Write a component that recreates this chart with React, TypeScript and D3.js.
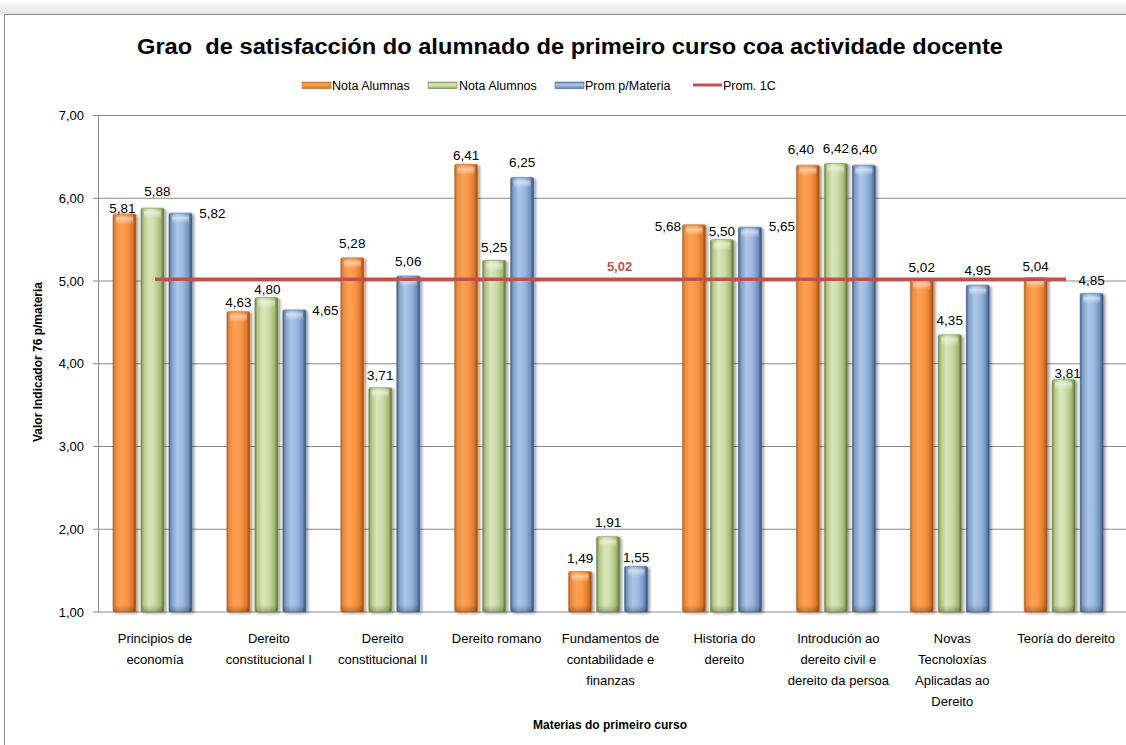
import React from 'react';
import * as d3 from 'd3';

// ---------- data ----------
const categories: string[][] = [
  ['Principios de', 'economía'],
  ['Dereito', 'constitucional I'],
  ['Dereito', 'constitucional II'],
  ['Dereito romano'],
  ['Fundamentos de', 'contabilidade e', 'finanzas'],
  ['Historia do', 'dereito'],
  ['Introdución ao', 'dereito civil e', 'dereito da persoa'],
  ['Novas', 'Tecnoloxías', 'Aplicadas ao', 'Dereito'],
  ['Teoría do dereito'],
];
const seriesNames = ['Nota Alumnas', 'Nota Alumnos', 'Prom p/Materia'];
const notaAlumnas = [5.81, 4.63, 5.28, 6.41, 1.49, 5.68, 6.4, 5.02, 5.04];
const notaAlumnos = [5.88, 4.8, 3.71, 5.25, 1.91, 5.5, 6.42, 4.35, 3.81];
const promMateria = [5.82, 4.65, 5.06, 6.25, 1.55, 5.65, 6.4, 4.95, 4.85];
const promedio1C = 5.02;
const lineName = 'Prom. 1C';
const yTicks = [1, 2, 3, 4, 5, 6, 7];
const title = 'Grao  de satisfacción do alumnado de primeiro curso coa actividade docente';
const yTitle = 'Valor Indicador 76 p/materia';
const xTitle = 'Materias do primeiro curso';

// label nudges (dx, dy) reproducing Excel's data label placement
const labelNudges: [number, number][][] = [
  [[-2, 7], [0, 3], [0, -2], [0, 3], [0, -1], [-26, 14], [-7, -3], [0, 0], [0, 1]],
  [[5, -4], [1, 4], [0, 0], [0, -1], [0, -2], [0, 4], [0, -3], [0, -2], [4, 6]],
  [[32, 13], [31, 13], [0, -2], [0, -3], [0, 3], [32, 11], [0, -3], [0, -2], [0, -1]],
];

const W = 1126;
const H = 745;
const FONT = "'Liberation Sans', Arial, sans-serif";
const fmt = (v: number) => d3.format('.2f')(v).replace('.', ',');

const gradStops: Record<string, [number, string][]> = {
  orange: [[0, '#B45C16'], [0.1, '#EC8A3B'], [0.35, '#FFA052'], [0.62, '#F99646'], [0.86, '#DE772A'], [1, '#8A4710']],
  green: [[0, '#6A7C3E'], [0.1, '#AFC47F'], [0.35, '#D9E6BE'], [0.62, '#C9DBA2'], [0.86, '#A3B976'], [1, '#566A30']],
  blue: [[0, '#3B5880'], [0.1, '#7A9CC7'], [0.35, '#ABC6E7'], [0.62, '#99B8DE'], [0.86, '#6F91BE'], [1, '#304C76']],
};
const seriesKeys = ['orange', 'green', 'blue'];
const strokeCols = ['#C9732E', '#7E9350', '#4D6B92'];

export default function App() {
  const margin = { left: 98, top: 115.5, bottom: 612 };
  const x = d3
    .scaleBand<number>()
    .domain(categories.map((_, i) => i))
    .range([98, 98 + 9 * 113.9])
    .padding(0);
  const inner = d3
    .scaleBand<number>()
    .domain([0, 1, 2])
    .range([-44.5, 39.5])
    .paddingInner(0.18)
    .paddingOuter(0.09);
  const y = d3.scaleLinear().domain([1, 7]).range([margin.bottom, margin.top]);
  const series = [notaAlumnas, notaAlumnos, promMateria];
  const cx = (i: number) => (x(i) as number) + x.bandwidth() / 2;
  const bw = inner.bandwidth();

  const linePts = categories.map((_, i) => [cx(i), y(promedio1C)] as [number, number]);
  const lineGen = d3.line();

  const legendItems = [
    { key: 0, sx: 302, tx: 332 },
    { key: 1, sx: 428, tx: 459 },
    { key: 2, sx: 555, tx: 585 },
  ];

  return (
    <svg
      width={W}
      height={H}
      style={{ position: 'absolute', left: 0, top: 0, background: '#fff' }}
      fontFamily={FONT}
    >
      <defs>
        {seriesKeys.map((k) => (
          <linearGradient key={k} id={`g-${k}`} x1="0" x2="1" y1="0" y2="0">
            {gradStops[k].map(([o, c], j) => (
              <stop key={j} offset={o} stopColor={c} />
            ))}
          </linearGradient>
        ))}
        {seriesKeys.map((k) => (
          <linearGradient key={k} id={`gl-${k}`} x1="0" x2="0" y1="0" y2="1">
            {gradStops[k].map(([o, c], j) => (
              <stop key={j} offset={o} stopColor={c} />
            ))}
          </linearGradient>
        ))}
        <linearGradient id="topHi" x1="0" x2="0" y1="0" y2="1">
          <stop offset="0" stopColor="#fff" stopOpacity="0.05" />
          <stop offset="0.35" stopColor="#fff" stopOpacity="0.5" />
          <stop offset="1" stopColor="#fff" stopOpacity="0" />
        </linearGradient>
        <linearGradient id="botSh" x1="0" x2="0" y1="0" y2="1">
          <stop offset="0" stopColor="#000" stopOpacity="0" />
          <stop offset="1" stopColor="#000" stopOpacity="0.25" />
        </linearGradient>
        <linearGradient id="frameShadow" x1="0" x2="0" y1="0" y2="1">
          <stop offset="0" stopColor="#ffffff" />
          <stop offset="1" stopColor="#e2e2e2" />
        </linearGradient>
        <filter id="shadow" x="-30%" y="-5%" width="160%" height="110%">
          <feGaussianBlur in="SourceAlpha" stdDeviation="1.8" />
          <feOffset dx="1.5" dy="1" result="b" />
          <feComponentTransfer>
            <feFuncA type="linear" slope="0.4" />
          </feComponentTransfer>
          <feMerge>
            <feMergeNode />
            <feMergeNode in="SourceGraphic" />
          </feMerge>
        </filter>
      </defs>

      {/* frame */}
      <rect x={0} y={0} width={W} height={14} fill="url(#frameShadow)" />
      <rect x={4.5} y={14.5} width={W + 20} height={H + 20} fill="#fff" stroke="#8a8a8a" strokeWidth={1} />

      {/* title */}
      <text
        x={137}
        y={54}
        fontSize={22.5}
        fontWeight="bold"
        fill="#000"
        textLength={866}
        lengthAdjust="spacingAndGlyphs"
        style={{ whiteSpace: 'pre' }}
      >
        {title}
      </text>

      {/* legend */}
      {legendItems.map((it) => (
        <g key={it.key}>
          <rect x={it.sx} y={82} width={29} height={6.5} fill={`url(#gl-${seriesKeys[it.key]})`} stroke={strokeCols[it.key]} strokeWidth={0.6} />
          <text x={it.tx} y={89.5} fontSize={12.5} fill="#000">
            {seriesNames[it.key]}
          </text>
        </g>
      ))}
      <line x1={693} x2={722} y1={85} y2={85} stroke="#C0504D" strokeWidth={3} />
      <text x={723} y={89.5} fontSize={12.5} fill="#000">
        {lineName}
      </text>

      {/* gridlines + y axis */}
      {yTicks.map((t) => (
        <g key={t}>
          <line x1={93} x2={W} y1={y(t)} y2={y(t)} stroke="#8a8a8a" strokeWidth={1} />
          <text x={84} y={y(t) + 4.5} fontSize={13} textAnchor="end" fill="#000">
            {fmt(t)}
          </text>
        </g>
      ))}
      <line x1={98.5} x2={98.5} y1={y(7)} y2={y(1)} stroke="#8a8a8a" strokeWidth={1} />

      {/* bars */}
      {series.map((vals, s) =>
        vals.map((v, i) => {
          const bx = cx(i) + (inner(s) as number);
          const by = y(v);
          const bh = y(1) - by;
          return (
            <g key={`${s}-${i}`}>
              <g filter="url(#shadow)">
                <rect x={bx} y={by} width={bw} height={bh} rx={1.5} fill={`url(#g-${seriesKeys[s]})`} stroke={strokeCols[s]} strokeWidth={0.6} />
              </g>
              <rect x={bx + 3} y={by + 1.5} width={bw - 6} height={Math.min(9, bh - 2)} rx={2} fill="url(#topHi)" />
              <rect x={bx + 1} y={y(1) - Math.min(7, bh)} width={bw - 2} height={Math.min(7, bh)} fill="url(#botSh)" />
            </g>
          );
        })
      )}

      {/* average line */}
      <path d={lineGen(linePts) || ''} stroke="#C0504D" strokeWidth={3.5} fill="none" />
      <text x={cx(4) + 9} y={y(promedio1C) - 8.5} fontSize={13} fontWeight="bold" fill="#C0504D" textAnchor="middle">
        {fmt(promedio1C)}
      </text>

      {/* value labels */}
      {series.map((vals, s) =>
        vals.map((v, i) => {
          const [dx, dy] = labelNudges[s][i];
          const lx = cx(i) + (inner(s) as number) + bw / 2 + dx;
          const ly = y(v) - 12.5 + 4.8 + dy;
          return (
            <text key={`l${s}-${i}`} x={lx} y={ly} fontSize={13.5} textAnchor="middle" fill="#000">
              {fmt(v)}
            </text>
          );
        })
      )}

      {/* category labels */}
      {categories.map((lines, i) => (
        <text key={i} x={cx(i)} y={643} fontSize={13} textAnchor="middle" fill="#000">
          {lines.map((ln, j) => (
            <tspan key={j} x={cx(i)} dy={j === 0 ? 0 : 21}>
              {ln}
            </tspan>
          ))}
        </text>
      ))}

      {/* axis titles */}
      <text x={610} y={729} fontSize={12} fontWeight="bold" textAnchor="middle" fill="#000">
        {xTitle}
      </text>
      <text
        transform={`translate(42, ${362}) rotate(-90)`}
        fontSize={12}
        fontWeight="bold"
        textAnchor="middle"
        fill="#000"
      >
        {yTitle}
      </text>
    </svg>
  );
}
